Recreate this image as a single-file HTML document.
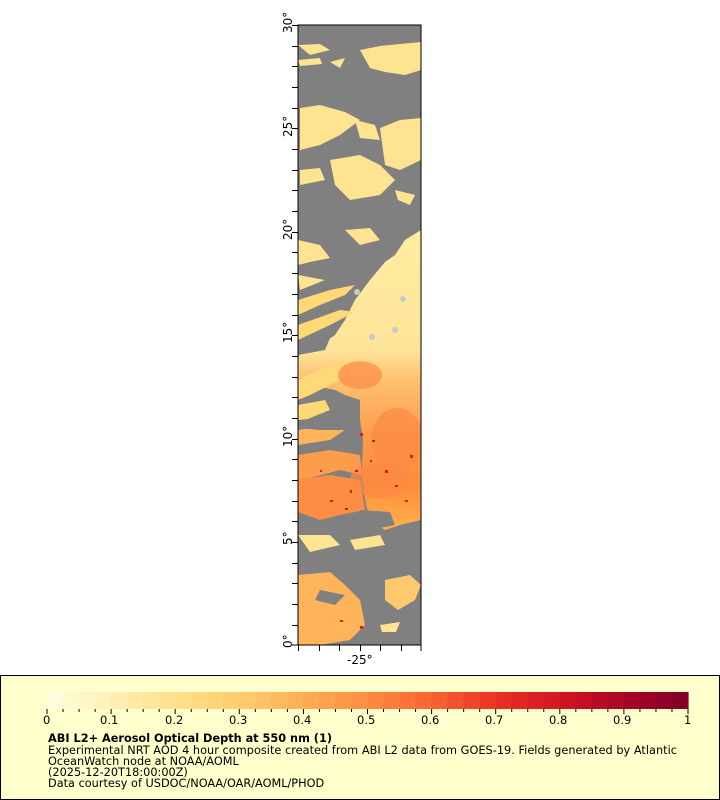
<!DOCTYPE html>
<html><head><meta charset="utf-8"><style>
body{margin:0;width:720px;height:800px;background:#fff;position:relative;overflow:hidden;font-family:"DejaVu Sans","Liberation Sans",sans-serif;}
</style></head><body>
<svg width="720" height="800" style="position:absolute;left:0;top:0" font-family="DejaVu Sans, Liberation Sans, sans-serif">
<defs>
<linearGradient id="plume" x1="0" y1="0" x2="0" y2="1">
<stop offset="0" stop-color="#ffeda0"/>
<stop offset="0.4" stop-color="#fee49a"/>
<stop offset="0.5" stop-color="#fdc070"/>
<stop offset="0.7" stop-color="#fc9a4a"/>
<stop offset="0.85" stop-color="#fd8d3c"/>
<stop offset="1" stop-color="#feb24c"/>
</linearGradient>
<clipPath id="c"><rect x="298" y="25" width="123" height="620"/></clipPath>
</defs>
<rect x="298" y="25" width="123" height="620" fill="#808080"/>
<g clip-path="url(#c)">
<g fill="#fee391">
<path d="M360,50 L380,46 L400,44 L421,42 L421,70 L405,75 L385,72 L370,68 Z"/>
<path d="M298,45 L320,44 L330,50 L310,55 Z"/>
<path d="M330,62 L345,58 L340,68 Z"/>
<path d="M298,60 L320,58 L322,64 L300,66 Z"/>
<path d="M300,108 L320,105 L345,112 L360,120 L340,135 L320,145 L300,150 Z"/>
<path d="M380,128 L400,120 L421,118 L421,160 L400,170 L385,165 Z"/>
<path d="M355,120 L375,125 L380,140 L360,138 Z"/>
<path d="M330,160 L360,155 L380,165 L395,180 L380,195 L350,200 L335,185 Z"/>
<path d="M300,170 L320,168 L325,180 L300,185 Z"/>
<path d="M395,190 L415,195 L410,205 L398,200 Z"/>
<path d="M345,230 L370,228 L380,240 L360,245 Z"/>
<path d="M298,240 L320,245 L330,258 L310,262 L298,265 Z"/>
<path d="M298,275 L325,280 L300,290 Z"/>
</g>
<path d="M421,230 L405,240 L395,255 L385,262 L370,280 L355,300 L345,320 L335,335 L320,345 L300,352 L298,360 L298,380 L310,385 L335,390 L345,395 L360,400 L360,420 L363,440 L362,470 L365,500 L370,520 L385,530 L400,525 L421,520 Z" fill="url(#plume)"/>
<g fill="#fed976">
<path d="M298,300 L330,290 L355,285 L345,295 L320,305 L298,315 Z"/>
<path d="M298,325 L340,310 L355,312 L330,325 L298,340 Z"/>
<path d="M298,380 L320,370 L345,360 L340,380 L310,395 L298,400 Z"/>
<path d="M298,405 L325,400 L330,410 L305,420 L298,420 Z"/>
<path d="M298,430 L330,425 L345,430 L330,440 L298,445 Z" fill="#fdb45a"/>
<path d="M298,455 L330,450 L360,455 L362,475 L340,470 L310,478 L298,480 Z" fill="#fd9d4c"/>
<path d="M298,480 L330,475 L360,480 L365,510 L340,515 L320,520 L298,512 Z" fill="#fc8d45"/>
<path d="M298,535 L330,535 L340,545 L310,552 Z" fill="#fee391"/>
<path d="M350,540 L380,535 L385,545 L355,550 Z" fill="#fee391"/>
<path d="M298,575 L330,572 L345,585 L360,600 L365,625 L350,640 L320,645 L298,645 Z" fill="#fdb45a"/>
<path d="M385,580 L410,575 L421,585 L415,600 L398,610 L385,600 Z" fill="#fec96e"/>
<path d="M380,625 L400,622 L396,632 L382,632 Z" fill="#fee391"/>
</g>
<g fill="#808080">
<path d="M360,510 L390,512 L395,525 L370,530 Z"/>
<path d="M298,420 L350,415 L358,430 L320,430 L298,428 Z"/>
<path d="M298,345 L330,338 L325,350 L298,355 Z"/>
<path d="M320,590 L345,595 L335,605 L315,600 Z"/>
</g>
<g fill="#fc8a45" opacity="0.7">
<ellipse cx="397" cy="440" rx="26" ry="32"/>
<ellipse cx="380" cy="480" rx="30" ry="18"/>
<ellipse cx="360" cy="375" rx="22" ry="14"/>
</g>
<g fill="#e31a1c">
<rect x="360" y="433" width="3" height="3"/><rect x="372" y="440" width="3" height="2"/>
<rect x="385" y="470" width="3" height="3"/><rect x="395" y="485" width="3" height="2"/>
<rect x="350" y="490" width="2" height="3"/><rect x="330" y="500" width="3" height="2"/>
<rect x="410" y="455" width="3" height="3"/><rect x="370" y="460" width="2" height="2"/>
<rect x="405" y="500" width="3" height="2"/><rect x="320" y="470" width="2" height="2"/>
<rect x="355" y="470" width="3" height="2"/><rect x="345" y="508" width="3" height="2"/>
<rect x="360" y="626" width="3" height="3"/><rect x="340" y="620" width="3" height="2"/>
</g>
<g fill="#c8c8c8"><circle cx="357" cy="292" r="3"/><circle cx="403" cy="299" r="3"/><circle cx="395" cy="330" r="3"/><circle cx="372" cy="337" r="3"/></g>
</g>
<rect x="298" y="25" width="123" height="620" fill="none" stroke="#000" stroke-width="1"/>
<g stroke="#000" stroke-width="1">
<path d="M292,25.5H298M292,46.5H298M292,66.5H298M292,87.5H298M292,108.5H298M292,128.5H298M292,149.5H298M292,170.5H298M292,190.5H298M292,211.5H298M292,232.5H298M292,252.5H298M292,273.5H298M292,294.5H298M292,315.5H298M292,335.5H298M292,356.5H298M292,377.5H298M292,397.5H298M292,418.5H298M292,439.5H298M292,459.5H298M292,480.5H298M292,501.5H298M292,521.5H298M292,542.5H298M292,563.5H298M292,583.5H298M292,604.5H298M292,625.5H298M292,645H298"/>
<path d="M298.5,645V651M319.5,645V651M339.5,645V651M360.5,645V651M380.5,645V651M401.5,645V651M421,645V651"/>
</g>
<g font-size="12" fill="#000">
<text transform="translate(292,648) rotate(-90)">0°</text>
<text transform="translate(292,545) rotate(-90)">5°</text>
<text transform="translate(292,447) rotate(-90)">10°</text>
<text transform="translate(292,343) rotate(-90)">15°</text>
<text transform="translate(292,240) rotate(-90)">20°</text>
<text transform="translate(292,137) rotate(-90)">25°</text>
<text transform="translate(292,33) rotate(-90)">30°</text>
<text x="347" y="664">-25°</text>
</g>
<rect x="0.5" y="675.5" width="719" height="124" fill="#ffffcc" stroke="#000"/>
<g id="cb"></g>
<g font-size="11.5" fill="#000">
<text x="43" y="724">0</text><text x="100" y="724">0.1</text><text x="165" y="724">0.2</text><text x="229" y="724">0.3</text><text x="293" y="724">0.4</text><text x="357" y="724">0.5</text><text x="421" y="724">0.6</text><text x="485" y="724">0.7</text><text x="549" y="724">0.8</text><text x="613" y="724">0.9</text><text x="684" y="724">1</text>
</g>
<g font-size="11.3" fill="#000">
<text x="48" y="742" font-weight="bold" textLength="284">ABI L2+ Aerosol Optical Depth at 550 nm (1)</text>
<text x="48" y="754" textLength="629">Experimental NRT AOD 4 hour composite created from ABI L2 data from GOES-19. Fields generated by Atlantic</text>
<text x="48" y="765">OceanWatch node at NOAA/AOML</text>
<text x="48" y="776">(2025-12-20T18:00:00Z)</text>
<text x="48" y="787">Data courtesy of USDOC/NOAA/OAR/AOML/PHOD</text>
</g>
</svg>
<script>
var stops=[[0,[255,255,224]],[0.1,[255,240,180]],[0.2,[254,224,140]],[0.3,[254,205,110]],[0.4,[253,174,85]],[0.5,[252,140,65]],[0.6,[250,100,50]],[0.7,[235,50,35]],[0.8,[210,20,35]],[0.9,[170,5,40]],[1,[128,0,38]]];
function col(t){for(var i=1;i<stops.length;i++){if(t<=stops[i][0]){var a=stops[i-1],b=stops[i],f=(t-a[0])/(b[0]-a[0]);return 'rgb('+[0,1,2].map(function(k){return Math.round(a[1][k]+(b[1][k]-a[1][k])*f)}).join(',')+')';}}return 'rgb(128,0,38)';}
var g=document.getElementById('cb'),s='',x0=47,w=641,n=40;
for(var i=0;i<n;i++){var x=x0+w*i/n;s+='<rect x="'+x+'" y="692" width="'+(w/n+0.6)+'" height="17" fill="'+col((i+0.5)/n)+'"/>';}
for(var i=0;i<=n;i++){var x=x0+w*i/n;var L=(i%4==0)?5:3;s+='<line x1="'+x+'" x2="'+x+'" y1="709" y2="'+(709+L)+'" stroke="#000"/>';}
g.innerHTML=s;
</script>
</body></html>
